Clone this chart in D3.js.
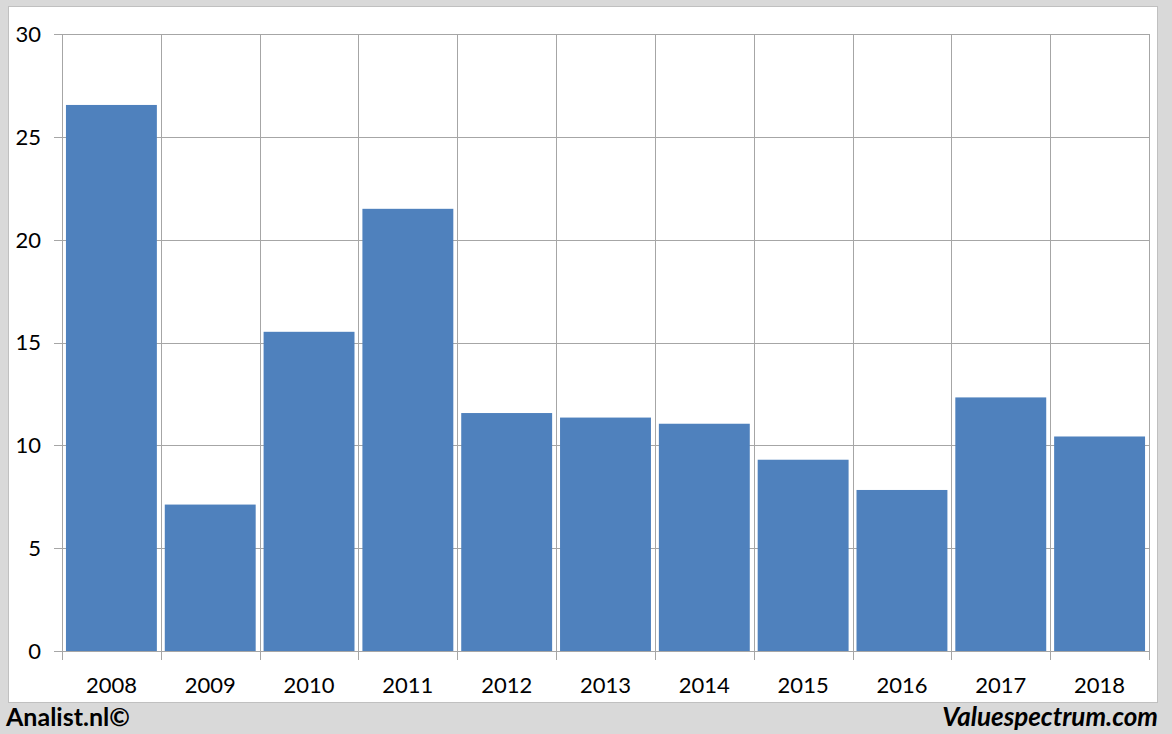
<!DOCTYPE html>
<html><head><meta charset="utf-8">
<script src="https://cdn.jsdelivr.net/npm/d3@7"></script>
<style>html,body{margin:0;padding:0;background:#d9d9d9;}svg{display:block;}</style>
</head><body>
<script>
const categories = ["2008","2009","2010","2011","2012","2013","2014","2015","2016","2017","2018"];
const values = [26.55, 7.12, 15.52, 21.5, 11.57, 11.35, 11.05, 9.3, 7.83, 12.33, 10.43];
const yTicks = [0,5,10,15,20,25,30];

const W = 1172, H = 734;
const svg = d3.select("body").append("svg").attr("width", W).attr("height", H);
svg.append("rect").attr("width", W).attr("height", H).attr("fill", "#d9d9d9");
svg.append("rect").attr("x", 8.5).attr("y", 6.5).attr("width", 1149).attr("height", 696)
  .attr("fill", "#fff").attr("stroke", "#c0c0c0").attr("stroke-width", 1);

const pLeft = 62, pRight = 1149, pTop = 34, pBottom = 651;
const x = d3.scaleBand().domain(categories).range([pLeft, pRight]).paddingInner(0.08).paddingOuter(0.04);
const y = d3.scaleLinear().domain([0, 30]).range([pBottom, pTop]);
const step = x.step();
const font = "Lato, 'Open Sans', sans-serif";

// horizontal gridlines
svg.append("g").selectAll("line").data(yTicks).join("line")
  .attr("x1", pLeft - 8).attr("x2", pRight)
  .attr("y1", d => Math.round(y(d)) + 0.5).attr("y2", d => Math.round(y(d)) + 0.5)
  .attr("stroke", "#a6a6a6").attr("stroke-width", 1);

// vertical gridlines at category boundaries
const bounds = categories.map(c => x(c) - x.paddingOuter() * step).concat([pRight]);
svg.append("g").selectAll("line").data(bounds).join("line")
  .attr("x1", d => Math.round(d) + 0.5).attr("x2", d => Math.round(d) + 0.5)
  .attr("y1", pTop).attr("y2", pBottom + 9)
  .attr("stroke", "#a6a6a6").attr("stroke-width", 1);

// bars
svg.append("g").selectAll("rect").data(values).join("rect")
  .attr("x", (d, i) => x(categories[i]))
  .attr("width", x.bandwidth())
  .attr("y", d => y(d))
  .attr("height", d => pBottom - y(d))
  .attr("fill", "#4f81bd");

// y labels
svg.append("g").selectAll("text").data(yTicks).join("text")
  .attr("x", 41).attr("y", d => y(d)).attr("dy", "0.36em")
  .attr("text-anchor", "end").attr("font-family", font).attr("font-size", 22)
  .attr("fill", "#000").text(d => d);

// x labels
svg.append("g").selectAll("text").data(categories).join("text")
  .attr("x", d => x(d) + x.bandwidth() / 2).attr("y", 693)
  .attr("text-anchor", "middle").attr("font-family", font).attr("font-size", 22)
  .attr("fill", "#000").text(d => d);

svg.append("text").attr("x", 6).attr("y", 726).attr("font-family", font)
  .attr("font-weight", "bold").attr("font-size", 25).text("Analist.nl©");
svg.append("text").attr("x", 1158).attr("y", 726).attr("text-anchor", "end").attr("font-family", font)
  .attr("font-weight", "bold").attr("font-style", "italic").attr("font-size", 26).text("Valuespectrum.com");
</script>
</body></html>
